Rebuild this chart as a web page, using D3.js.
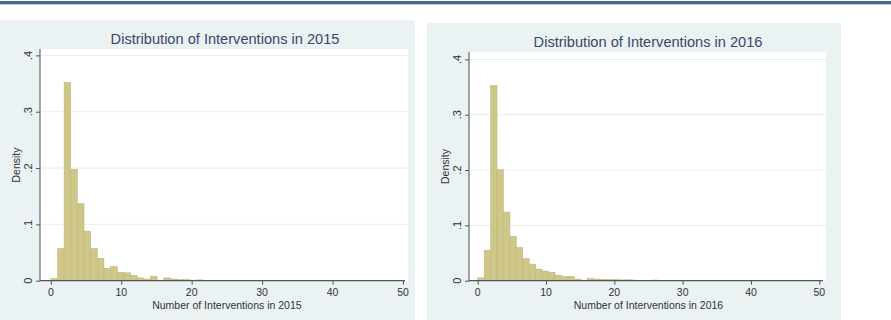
<!DOCTYPE html>
<html><head><meta charset="utf-8">
<script src="https://cdn.jsdelivr.net/npm/d3@7"></script>
<style>html,body{margin:0;padding:0;background:#fff;}svg{display:block;}</style>
</head><body>
<svg id="c" width="891" height="320"></svg>
<script>
// ---- data ----
const binCount = 53;            // equal-width bins over [0, 50]
const xTicks = [0, 10, 20, 30, 40, 50];
const yTicks = [0, 0.1, 0.2, 0.3, 0.4];
const yTickLabels = ["0", ".1", ".2", ".3", ".4"];
const titles = ["Distribution of Interventions in 2015", "Distribution of Interventions in 2016"];
const xTitles = ["Number of Interventions in 2015", "Number of Interventions in 2016"];
const density2015 = [0.004,0.057,0.352,0.198,0.137,0.088,0.057,0.040,0.022,0.025,
  0.015,0.014,0.0095,0.005,0.003,0.008,0.001,0.005,0.003,0.002,
  0.002,0.001,0.0015,0.0008,0.0006,0.0005,0.0005,0.0004,0.0004,0.0003,
  0.0004,0.0003,0.0003,0.0002,0.0003,0.0002,0.0002,0.0003,0.0002,0.0002,
  0.0002,0.0003,0.0002,0.0001,0.0002,0.0001,0.0002,0.0001,0.0001,0.0002,
  0.0001,0.0001,0.0002];
const density2016 = [0.005,0.055,0.353,0.201,0.124,0.080,0.060,0.040,0.030,0.021,
  0.0175,0.015,0.010,0.008,0.008,0.003,0.001,0.004,0.003,0.0025,
  0.002,0.002,0.0015,0.002,0.001,0.0008,0.0006,0.0012,0.0005,0.0004,
  0.0004,0.0003,0.0004,0.0003,0.0003,0.0002,0.0003,0.0002,0.0002,0.0003,
  0.0002,0.0002,0.0002,0.0001,0.0002,0.0001,0.0002,0.0001,0.0001,0.0002,
  0.0001,0.0001,0.0002];

// ---- layout ----
const panels = [
  {data: density2015, title: titles[0], xTitle: xTitles[0],
   bg: [0, 20, 415, 300], plot: [40, 49, 408, 281],
   xr: [50.8, 403], yr: [280.7, 55.4], titleX: 225, titleY: 44, ylabX: 20, ytickX: 32},
  {data: density2016, title: titles[1], xTitle: xTitles[1],
   bg: [427, 23, 414, 297], plot: [469, 52, 826, 281],
   xr: [477.7, 819.3], yr: [280.7, 59.4], titleX: 648, titleY: 47, ylabX: 449, ytickX: 461}
];

const svg = d3.select("#c");
const font = "Liberation Sans, Arial, Helvetica, sans-serif";

// top rule
svg.append("rect").attr("x",0).attr("y",1).attr("width",891).attr("height",3).attr("fill","#4a6a90");
svg.append("rect").attr("x",0).attr("y",4).attr("width",891).attr("height",1).attr("fill","#b4c6dc");

panels.forEach(p => {
  const g = svg.append("g");
  g.append("rect").attr("x",p.bg[0]).attr("y",p.bg[1]).attr("width",p.bg[2]).attr("height",p.bg[3]).attr("fill","#eaf2f3");
  g.append("rect").attr("x",p.plot[0]).attr("y",p.plot[1]).attr("width",p.plot[2]-p.plot[0]).attr("height",p.plot[3]-p.plot[1]).attr("fill","#ffffff");

  const x = d3.scaleLinear().domain([0,50]).range(p.xr);
  const y = d3.scaleLinear().domain([0,0.4]).range(p.yr);
  const w = 50 / binCount;

  // gridlines
  g.selectAll(".grid").data(yTicks.slice(1)).join("line")
    .attr("x1",p.plot[0]+1).attr("x2",p.plot[2]).attr("y1",d=>y(d)).attr("y2",d=>y(d))
    .attr("stroke","#e9eef1").attr("stroke-width",1);

  // bars
  g.selectAll(".bar").data(p.data).join("rect")
    .attr("x",(d,i)=>x(i*w)).attr("width",(d,i)=>x((i+1)*w)-x(i*w))
    .attr("y",d=>y(d)).attr("height",d=>y(0)-y(d))
    .attr("fill","#cfc68a").attr("stroke","#bdb472").attr("stroke-width",0.5);

  // y axis
  const yAxis = d3.axisLeft(y).tickValues(yTicks).tickSize(4).tickFormat("");
  const ya = g.append("g").attr("transform",`translate(${p.plot[0]},0)`).call(yAxis);
  ya.select(".domain").attr("d",`M0,${p.plot[1]}V${p.plot[3]}`).attr("stroke","#6a6a6a").attr("stroke-width",1.2);
  ya.selectAll(".tick line").attr("stroke","#555");
  g.selectAll(".ytl").data(yTicks).join("text")
    .attr("transform",(d,i)=>`translate(${p.ytickX},${y(d)}) rotate(-90)`)
    .attr("text-anchor","middle").attr("font-family",font).attr("font-size",11).attr("fill","#333")
    .text((d,i)=>yTickLabels[i]);

  // x axis
  const xAxis = d3.axisBottom(x).tickValues(xTicks).tickSize(4).tickFormat("");
  const xa = g.append("g").attr("transform",`translate(0,${y(0)})`).call(xAxis);
  xa.select(".domain").attr("d",`M${p.plot[0]},0H${p.plot[2]-3}`).attr("stroke","#555").attr("stroke-width",1.2);
  xa.selectAll(".tick line").attr("stroke","#555");
  g.selectAll(".xtl").data(xTicks).join("text")
    .attr("x",d=>x(d)).attr("y",296).attr("text-anchor","middle")
    .attr("font-family",font).attr("font-size",10.5).attr("fill","#333").text(d=>d);

  // titles
  g.append("text").attr("x",p.titleX).attr("y",p.titleY).attr("text-anchor","middle")
    .attr("font-family",font).attr("font-size",14.6).attr("fill","#3a4868").text(p.title);
  g.append("text").attr("x",(p.xr[0]+p.xr[1])/2).attr("y",308.5).attr("text-anchor","middle")
    .attr("font-family",font).attr("font-size",10.5).attr("fill","#333").text(p.xTitle);
  g.append("text").attr("transform",`translate(${p.ylabX},${(p.plot[1]+p.plot[3])/2}) rotate(-90)`)
    .attr("text-anchor","middle").attr("font-family",font).attr("font-size",10.5).attr("fill","#333").text("Density");
});
</script>
</body></html>
